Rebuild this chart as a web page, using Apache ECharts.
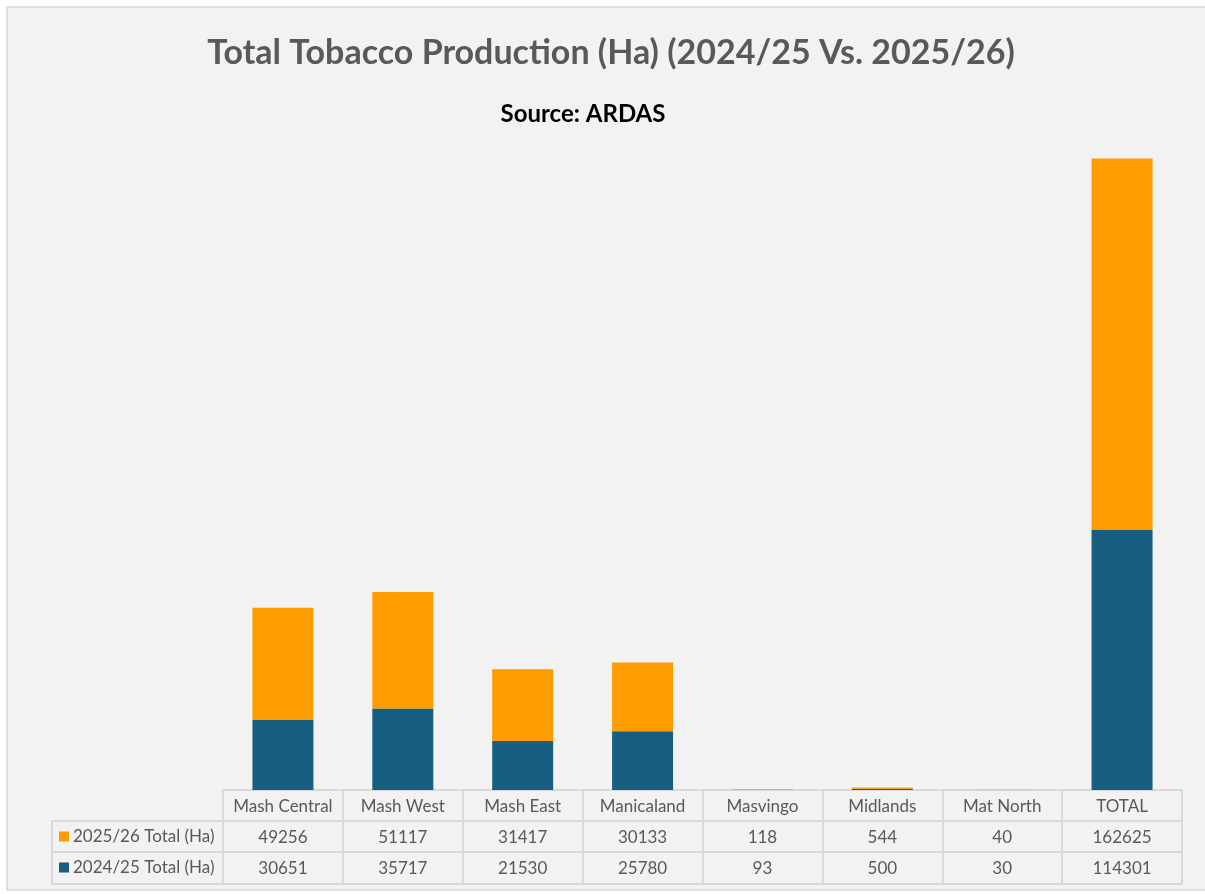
<!DOCTYPE html>
<html>
<head>
<meta charset="utf-8">
<script src="https://cdn.jsdelivr.net/npm/echarts@6/dist/echarts.min.js"></script>
<style>
html,body{margin:0;padding:0;background:#fff;}
#chart{width:1205px;height:894px;}
</style>
</head>
<body>
<div id="chart"></div>
<script>
const categories = ['Mash Central', 'Mash West', 'Mash East', 'Manicaland', 'Masvingo', 'Midlands', 'Mat North', 'TOTAL'];
const seriesNames = ['2025/26 Total (Ha)', '2024/25 Total (Ha)'];
const values2526 = [49256, 51117, 31417, 30133, 118, 544, 40, 162625];
const values2425 = [30651, 35717, 21530, 25780, 93, 500, 30, 114301];

const ORANGE = '#FF9C00';
const BLUE = '#165F80';
const LINE = '#d9d9d9';
const TXT = '#595959';
const FONT = 'Lato, "Open Sans", sans-serif';

const chart = echarts.init(document.getElementById('chart'));

// layout constants (table geometry)
const gridLeft = 223, gridRight = 1182, axisY = 790, rowH = 31;
const rowLabelLeft = 52;

const graphics = [
  { type: 'rect', z: -100, shape: { x: 7, y: 7, width: 1220, height: 883 },
    style: { fill: '#f2f2f2', stroke: LINE, lineWidth: 1.5 } },
  // horizontal table lines
  { type: 'line', shape: { x1: rowLabelLeft, y1: axisY + rowH, x2: gridRight, y2: axisY + rowH }, style: { stroke: LINE, lineWidth: 2 } },
  { type: 'line', shape: { x1: rowLabelLeft, y1: axisY + 2 * rowH, x2: gridRight, y2: axisY + 2 * rowH }, style: { stroke: LINE, lineWidth: 2 } },
  { type: 'line', shape: { x1: rowLabelLeft, y1: axisY + 3 * rowH + 1, x2: gridRight, y2: axisY + 3 * rowH + 1 }, style: { stroke: LINE, lineWidth: 2 } },
  // left edge of row label box
  { type: 'line', shape: { x1: rowLabelLeft, y1: axisY + rowH, x2: rowLabelLeft, y2: axisY + 3 * rowH + 1 }, style: { stroke: LINE, lineWidth: 2 } }
];
const swatchColors = [ORANGE, BLUE];
seriesNames.forEach((name, i) => {
  const cy = axisY + rowH * (i + 1) + rowH / 2;
  graphics.push({ type: 'rect', shape: { x: 59, y: cy - 5, width: 10, height: 10 }, style: { fill: swatchColors[i] } });
  graphics.push({ type: 'text', x: 73, y: cy, style: { text: name, fill: TXT, font: '17px ' + FONT, textVerticalAlign: 'middle', textAlign: 'left' } });
});

const option = {
  backgroundColor: '#ffffff',
  animation: false,
  title: [
    { text: 'Total Tobacco Production (Ha) (2024/25 Vs. 2025/26)', left: 606, top: 31, textAlign: 'center',
      textStyle: { fontFamily: FONT, fontWeight: 'bold', fontSize: 34, color: TXT } },
    { text: 'Source: ARDAS', left: 578, top: 97, textAlign: 'center',
      textStyle: { fontFamily: FONT, fontWeight: 'bold', fontSize: 24, color: '#000' } }
  ],
  grid: { left: gridLeft, right: 1205 - gridRight, top: 106, bottom: 894 - axisY },
  xAxis: {
    type: 'category',
    data: categories,
    axisLine: { show: true, lineStyle: { color: LINE, width: 2 } },
    axisTick: { show: true, length: 3 * rowH + 1, lineStyle: { color: LINE, width: 2 } },
    axisLabel: {
      margin: 1,
      interval: 0,
      formatter: function (v, idx) {
        return '{h|' + v + '}\n{v|' + values2526[idx] + '}\n{v|' + values2425[idx] + '}';
      },
      rich: {
        h: { fontFamily: FONT, fontSize: 17, color: TXT, lineHeight: rowH, height: rowH, verticalAlign: 'middle' },
        v: { fontFamily: FONT, fontSize: 17, color: TXT, lineHeight: rowH, height: rowH, verticalAlign: 'middle' }
      }
    }
  },
  yAxis: { type: 'value', min: 0, max: 300000, show: false, splitLine: { show: false } },
  series: [
    { name: seriesNames[1], type: 'bar', stack: 'total', data: values2425, barWidth: 61, itemStyle: { color: BLUE } },
    { name: seriesNames[0], type: 'bar', stack: 'total', data: values2526, barWidth: 61, itemStyle: { color: ORANGE } }
  ],
  graphic: graphics
};
chart.setOption(option);
</script>
</body>
</html>
